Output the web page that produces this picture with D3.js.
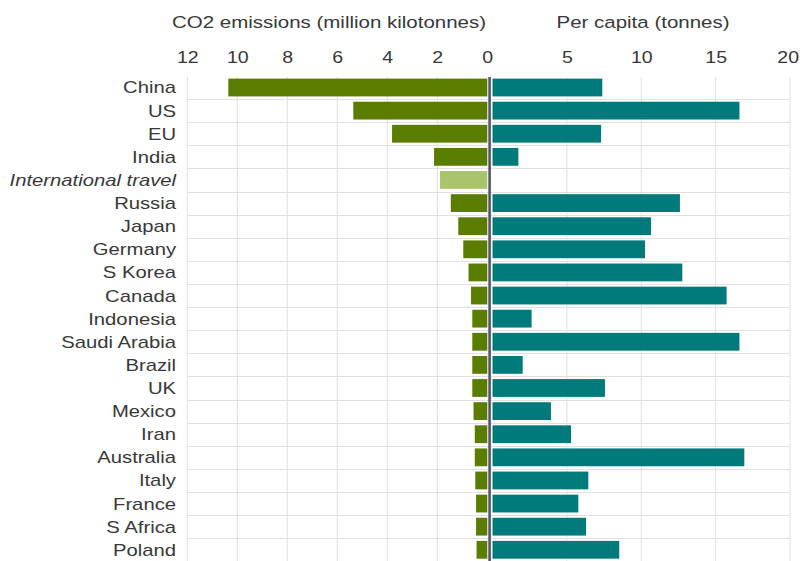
<!DOCTYPE html>
<html>
<head>
<meta charset="utf-8">
<script src="https://cdn.jsdelivr.net/npm/d3@7"></script>
<style>
    body { margin: 0; background: #fff; }
    text { font-family: "Liberation Sans", Arial, sans-serif; fill: #383838; }
</style>
</head>
<body>
<div id="chart"></div>
<script>
const countries = ["China", "US", "EU", "India", "International travel", "Russia", "Japan",
    "Germany", "S Korea", "Canada", "Indonesia", "Saudi Arabia", "Brazil", "UK", "Mexico",
    "Iran", "Australia", "Italy", "France", "S Africa", "Poland"]
// million kilotonnes
const emissions = [10.36, 5.36, 3.81, 2.13, 1.89, 1.46, 1.16, 0.96, 0.75, 0.65, 0.6,
    0.6, 0.6, 0.6, 0.55, 0.5, 0.5, 0.48, 0.45, 0.45, 0.43]
// tonnes per person (none for international travel)
const perCapita = [7.38, 16.6, 7.3, 1.74, null, 12.6, 10.66, 10.25, 12.76, 15.74, 2.63,
    16.6, 2.03, 7.56, 3.93, 5.28, 16.93, 6.44, 5.77, 6.29, 8.52]
const leftTicks = [12, 10, 8, 6, 4, 2, 0]
const rightTicks = [5, 10, 15, 20]

const W = 800, H = 561
const sx = 1.22   // the picture is stretched sideways

const svg = d3.select("#chart").append("svg")
    .attr("width", W).attr("height", H)

const xL = d3.scaleLinear().domain([0, 12]).range([487.3, 187.3])
const xR = d3.scaleLinear().domain([0, 20]).range([492.5, 790])
const y = d3.scaleBand().domain(countries).range([76.3, 561]).paddingInner(0.23).paddingOuter(0.1)

const rows = countries.map((c, i) => ({ name: c, co2: emissions[i], pc: perCapita[i] }))

// grid
const grid = svg.append("g")
grid.selectAll(".hl")
    .data(countries.slice(1))
    .join("line")
    .attr("x1", xL(12)).attr("x2", xR(20))
    .attr("y1", d => Math.round(y(d) - y.step() * y.paddingInner() / 2) + 0.5)
    .attr("y2", d => Math.round(y(d) - y.step() * y.paddingInner() / 2) + 0.5)
    .attr("stroke", "#e0e0e0")
grid.selectAll(".vl")
    .data(leftTicks.filter(d => d > 0).map(d => xL(d)).concat(rightTicks.map(d => xR(d))))
    .join("line")
    .attr("x1", d => d).attr("x2", d => d)
    .attr("y1", 77).attr("y2", H)
    .attr("stroke", "#e0e0e0")

// bars
svg.append("g").selectAll("rect")
    .data(rows)
    .join("rect")
    .attr("x", d => xL(d.co2))
    .attr("y", d => y(d.name))
    .attr("width", d => xL(0) - xL(d.co2))
    .attr("height", y.bandwidth())
    .attr("fill", d => d.name === "International travel" ? "#a9c46c" : "#5a7d00")

svg.append("g").selectAll("rect")
    .data(rows.filter(d => d.pc != null))
    .join("rect")
    .attr("x", xR(0))
    .attr("y", d => y(d.name))
    .attr("width", d => xR(d.pc) - xR(0))
    .attr("height", y.bandwidth())
    .attr("fill", "#007a7a")

// centre line
svg.append("line")
    .attr("x1", 489.6).attr("x2", 489.6)
    .attr("y1", 77).attr("y2", H)
    .attr("stroke", "#55556a")
    .attr("stroke-width", 2.6)

// axes
const axL = svg.append("g")
    .attr("transform", "translate(0,63)")
    .call(d3.axisTop(xL).tickValues(leftTicks).tickSize(0).tickPadding(0))
const axR = svg.append("g")
    .attr("transform", "translate(0,63)")
    .call(d3.axisTop(xR).tickValues(rightTicks).tickSize(0).tickPadding(0))
for (const ax of [axL, axR]) {
    ax.select(".domain").remove()
    ax.selectAll("text")
        .attr("dy", 0)
        .attr("transform", "scale(1.15,1)")
        .style("font-size", "17px")
        .style("font-family", '"Liberation Sans", Arial, sans-serif')
        .attr("fill", "#383838")
}
// last label sits at the right edge
axR.selectAll("text").filter(d => d === 20).attr("x", -2)

// country labels
svg.append("g").selectAll("text")
    .data(rows)
    .join("text")
    .attr("transform", d => `translate(176,${y(d.name) + y.bandwidth() / 2}) scale(${sx},1)`)
    .attr("text-anchor", "end")
    .attr("dy", "0.36em")
    .style("font-size", "16.6px")
    .style("font-style", d => d.name === "International travel" ? "italic" : null)
    .text(d => d.name)

// titles
svg.append("text")
    .attr("transform", `translate(329,28) scale(${sx},1)`)
    .attr("text-anchor", "middle")
    .style("font-size", "16.8px")
    .text("CO2 emissions (million kilotonnes)")
svg.append("text")
    .attr("transform", `translate(643,28) scale(${sx},1)`)
    .attr("text-anchor", "middle")
    .style("font-size", "16.8px")
    .text("Per capita (tonnes)")
</script>
</body>
</html>
